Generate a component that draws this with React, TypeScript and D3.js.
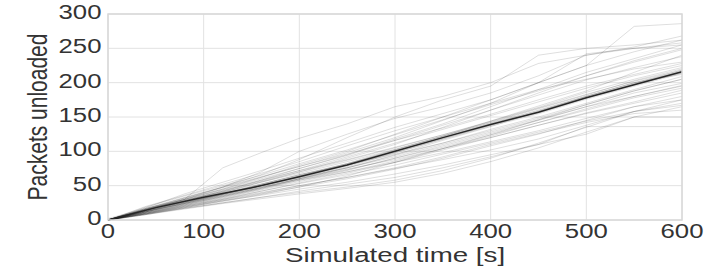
import React from 'react';
import * as d3 from 'd3';

// sample times (s) shared by every run
const times = [0, 40, 80, 120, 160, 200, 250, 300, 350, 400, 450, 500, 550, 600];

// packets unloaded per simulation run (one row per run)
const runs: number[][] = [
  [0, 14, 30, 76, 98, 119, 140, 165, 180, 200, 228, 240, 250, 255],
  [0, 18, 38, 55, 72, 90, 112, 135, 155, 175, 200, 225, 282, 286],
  [0, 16, 32, 48, 66, 88, 120, 150, 175, 195, 240, 250, 255, 262],
  [0, 15, 30, 45, 62, 80, 100, 125, 150, 175, 200, 225, 245, 262],
  [0, 12, 28, 42, 58, 75, 95, 118, 140, 165, 190, 215, 235, 255],
  [0, 14, 27, 40, 55, 70, 90, 110, 135, 160, 185, 210, 230, 248],
  [0, 13, 26, 38, 52, 66, 82, 100, 120, 140, 160, 180, 200, 216],
  [0, 12, 25, 37, 50, 64, 80, 98, 118, 138, 158, 178, 198, 214],
  [0, 15, 28, 41, 55, 68, 85, 103, 122, 142, 162, 182, 203, 220],
  [0, 11, 23, 35, 47, 60, 76, 94, 112, 132, 150, 170, 190, 209],
  [0, 10, 22, 33, 45, 58, 72, 90, 108, 126, 145, 165, 185, 199],
  [0, 9, 20, 30, 42, 54, 68, 84, 102, 120, 138, 156, 172, 189],
  [0, 8, 18, 28, 38, 48, 60, 74, 90, 108, 125, 145, 165, 180],
  [0, 10, 20, 30, 40, 50, 62, 75, 88, 102, 118, 138, 158, 167],
  [0, 9, 19, 28, 36, 45, 55, 67, 80, 95, 110, 125, 150, 150],
  [0, 8, 17, 25, 33, 42, 52, 62, 76, 92, 110, 136, 136, 136],
  [0, 20, 36, 52, 68, 85, 108, 130, 150, 170, 190, 205, 220, 230],
  [0, 17, 33, 48, 63, 78, 96, 116, 134, 154, 175, 195, 212, 228],
  [0, 16, 30, 44, 58, 72, 88, 106, 124, 144, 166, 188, 215, 240],
  [0, 13, 25, 38, 50, 62, 76, 92, 110, 128, 146, 165, 180, 195],
  [0, 12, 24, 36, 48, 60, 74, 88, 104, 120, 138, 155, 170, 185],
  [0, 11, 22, 34, 46, 58, 70, 84, 98, 114, 130, 148, 165, 175],
  [0, 14, 26, 38, 52, 66, 80, 96, 112, 130, 148, 168, 188, 205],
  [0, 19, 35, 50, 65, 82, 102, 124, 146, 168, 188, 210, 232, 250],
  [0, 15, 29, 43, 57, 72, 92, 112, 132, 152, 172, 192, 210, 225],
  [0, 10, 21, 32, 44, 56, 70, 86, 104, 122, 142, 162, 180, 196],
  [0, 13, 24, 35, 47, 59, 73, 90, 106, 124, 142, 160, 178, 192],
  [0, 16, 31, 45, 60, 75, 94, 116, 138, 160, 182, 204, 222, 238],
  [0, 11, 21, 31, 42, 53, 66, 80, 96, 112, 128, 144, 158, 170],
  [0, 12, 24, 37, 50, 64, 82, 102, 122, 144, 164, 186, 205, 222],
  [0, 14, 28, 42, 56, 70, 87, 105, 124, 143, 163, 183, 202, 218],
  [0, 10, 19, 29, 39, 50, 62, 76, 92, 110, 126, 142, 155, 160],
  [0, 17, 32, 47, 62, 78, 98, 120, 145, 170, 200, 242, 250, 258],
  [0, 9, 18, 27, 37, 48, 64, 84, 104, 124, 146, 168, 188, 205],
  [0, 12, 23, 34, 46, 60, 76, 95, 116, 136, 158, 180, 200, 212],
  [0, 15, 30, 48, 70, 100, 125, 148, 165, 185, 210, 240, 252, 268],
  [0, 8, 16, 24, 31, 38, 46, 55, 68, 85, 105, 128, 150, 165],
  [0, 9, 17, 25, 33, 40, 48, 58, 72, 90, 112, 135, 158, 175],
];

// mean curve
const meanTimes = [0, 50, 100, 150, 200, 250, 300, 350, 400, 450, 500, 550, 600];
const meanUnloaded = [0, 18, 33, 47, 63, 80, 100, 120, 139, 157, 178, 197, 216];

const xTicks = [0, 100, 200, 300, 400, 500, 600];
const yTicks = [0, 50, 100, 150, 200, 250, 300];

const W = 718;
const H = 275;
const margin = { top: 14, right: 36, bottom: 55, left: 108 };
const stretch = 1.32; // the figure is wider than tall text would suggest
const font = '"Liberation Sans", Arial, sans-serif';
const textColor = '#333333';

export default function App() {
  const x = d3.scaleLinear().domain([0, 600]).range([margin.left, W - margin.right]);
  const y = d3.scaleLinear().domain([0, 300]).range([H - margin.bottom, margin.top]);

  const runLine = d3.line<number>()
    .x((_, i) => x(times[i]))
    .y(d => y(d));
  const meanLine = d3.line<number>()
    .x((_, i) => x(meanTimes[i]))
    .y(d => y(d));
  const band = d3.area<number>()
    .x((_, i) => x(meanTimes[i]))
    .y0(d => y(Math.max(0, d - 3)))
    .y1(d => y(d + 3));

  const [x0, x1] = x.range();
  const [yb, yt] = y.range();

  return (
    <svg width={W} height={H} style={{ position: 'absolute', left: 0, top: 0 }}>
      <rect x={0} y={0} width={W} height={H} fill="#fff" />
      {/* grid */}
      <g stroke="#e2e2e2" strokeWidth={1}>
        {xTicks.map(t => (
          <line key={'gx' + t} x1={x(t)} x2={x(t)} y1={yt} y2={yb} />
        ))}
        {yTicks.map(t => (
          <line key={'gy' + t} x1={x0} x2={x1} y1={y(t)} y2={y(t)} />
        ))}
      </g>
      {/* runs */}
      <g fill="none" stroke="#000" strokeOpacity={0.13} strokeWidth={1}>
        {runs.map((r, i) => (
          <path key={i} d={runLine(r) || ''} />
        ))}
      </g>
      <path d={band(meanUnloaded) || ''} fill="#000" fillOpacity={0.12} />
      <path d={meanLine(meanUnloaded) || ''} fill="none" stroke="#262626" strokeWidth={1.5} />
      {/* frame */}
      <rect x={x0} y={yt} width={x1 - x0} height={yb - yt} fill="none" stroke="#d8d8d8" strokeWidth={1.5} />
      {/* tick labels */}
      <g fill={textColor} fontFamily={font} fontSize={19.5}>
        {xTicks.map(t => (
          <text key={'tx' + t} textAnchor="middle" transform={`translate(${x(t)},238) scale(${stretch},1)`}>{t}</text>
        ))}
        {yTicks.map(t => (
          <text key={'ty' + t} textAnchor="end" transform={`translate(101.5,${y(t) + 5}) scale(${stretch},1)`}>{t}</text>
        ))}
      </g>
      <text fill={textColor} fontFamily={font} fontSize={21} textAnchor="middle"
        transform={`translate(${(x0 + x1) / 2},262) scale(${stretch},1)`}>Simulated time [s]</text>
      <text fill={textColor} fontFamily={font} fontSize={21} textAnchor="middle"
        transform={`translate(47,117) scale(${stretch},1) rotate(-90)`}>Packets unloaded</text>
    </svg>
  );
}
